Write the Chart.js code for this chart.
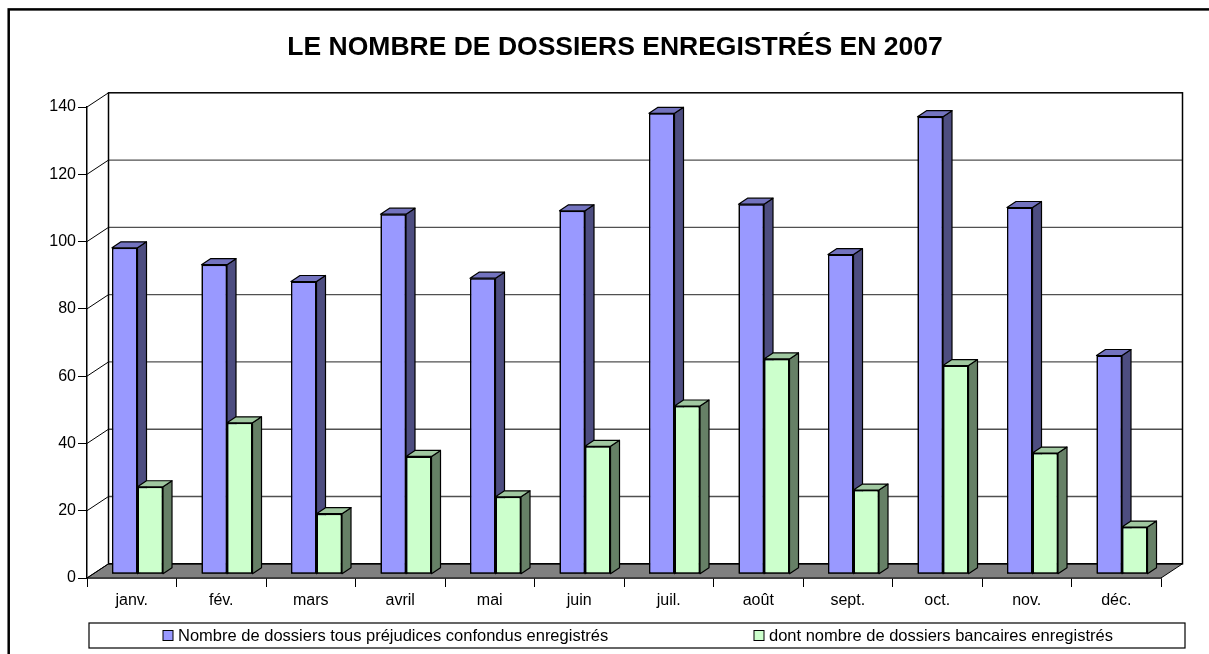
<!DOCTYPE html>
<html>
<head>
<meta charset="utf-8">
<script src="https://cdn.jsdelivr.net/npm/chart.js@4"></script>
<style>
    html, body { margin: 0; padding: 0; background: #fff; overflow: hidden; }
    #wrap { position: relative; width: 1209px; height: 654px; }
</style>
</head>
<body>
<div id="wrap"><canvas id="chart"></canvas></div>
<script>
// Data
const months = ["janv.", "fév.", "mars", "avril", "mai", "juin", "juil.", "août", "sept.", "oct.", "nov.", "déc."];
const totalFiles = [97, 92, 87, 107, 88, 108, 137, 110, 95, 136, 109, 65];
const bankFiles = [26, 45, 18, 35, 23, 38, 50, 64, 25, 62, 36, 14];
const seriesNames = [
    "Nombre de dossiers tous préjudices confondus enregistrés",
    "dont nombre de dossiers bancaires enregistrés",
];
const titleText = "LE NOMBRE DE DOSSIERS ENREGISTRÉS EN 2007";
const yMin = 0, yMax = 140, yStep = 20;

// Styles
const FONT = '"Liberation Sans", Arial, sans-serif';
const faces = [
    { front: "#9999FF", side: "#4D4D80", top: "#7373BF" },
    { front: "#CCFFCC", side: "#668066", top: "#A0C8A0" },
];
const WALL = { dx: 21.5, dy: -14.2 };   // depth of the floor / side wall
const SHIFT = { dx: 5.75, dy: -3.8 };   // bars sit a bit behind the front edge
const DEPTH = { dx: 9, dy: -6 };        // depth of one bar
const legendLayout = { left: 89, top: 623, right: 1185, bottom: 648, items: [163, 754] };

Chart.defaults.font.family = FONT;

function poly(ctx, pts, fill) {
    ctx.beginPath();
    ctx.moveTo(pts[0][0], pts[0][1]);
    for (let i = 1; i < pts.length; i++) ctx.lineTo(pts[i][0], pts[i][1]);
    ctx.closePath();
    if (fill) {
        ctx.fillStyle = fill;
        ctx.fill();
    }
    ctx.stroke();
}

function line(ctx, x1, y1, x2, y2) {
    ctx.beginPath();
    ctx.moveTo(x1, y1);
    ctx.lineTo(x2, y2);
    ctx.stroke();
}

// Walls, floor and the depth faces of the bars
const frame3d = {
    id: "frame3d",
    beforeDraw(chart) {
        const ctx = chart.ctx;
        ctx.save();
        ctx.strokeStyle = "#000";
        ctx.lineWidth = 2.5;
        ctx.strokeRect(8.7, 9.4, 1400, 1000);
        ctx.restore();
    },
    beforeDatasetsDraw(chart) {
        const { ctx, chartArea: a, scales: { y } } = chart;
        ctx.save();
        // floor
        ctx.strokeStyle = "#000";
        ctx.lineWidth = 1;
        poly(ctx, [
            [a.left, a.bottom],
            [a.left + WALL.dx, a.bottom + WALL.dy],
            [a.right + WALL.dx, a.bottom + WALL.dy],
            [a.right, a.bottom],
        ], "#808080");
        // gridlines on back wall + diagonals on side wall
        y.ticks.forEach((t) => {
            const py = y.getPixelForValue(t.value);
            ctx.strokeStyle = "#000";
            ctx.lineWidth = 1;
            line(ctx, a.left, py, a.left + WALL.dx, py + WALL.dy);
            if (t.value > yMin && t.value < yMax) {
                ctx.strokeStyle = "#505050";
                ctx.lineWidth = 1.3;
                line(ctx, a.left + WALL.dx, py + WALL.dy, a.right + WALL.dx, py + WALL.dy);
            }
        });
        // back wall outline
        ctx.strokeStyle = "#000";
        ctx.lineWidth = 1.5;
        ctx.strokeRect(a.left + WALL.dx, a.top + WALL.dy, a.right - a.left, a.bottom - a.top);
        ctx.restore();

        ctx.save();
        ctx.translate(SHIFT.dx, SHIFT.dy);
    },
    afterDatasetsDraw(chart) {
        const ctx = chart.ctx;
        const metas = chart.getSortedVisibleDatasetMetas();
        ctx.lineJoin = "round";
        for (let i = 0; i < chart.data.labels.length; i++) {
            metas.forEach((meta) => {
                const bar = meta.data[i];
                const st = faces[meta.index];
                bar.draw(ctx);
                const { x, y, base, width } = bar.getProps(["x", "y", "base", "width"], true);
                const l = x - width / 2, r = x + width / 2;
                ctx.strokeStyle = "#000";
                ctx.lineWidth = 1.2;
                poly(ctx, [[r, y], [r + DEPTH.dx, y + DEPTH.dy], [r + DEPTH.dx, base + DEPTH.dy], [r, base]], st.side);
                poly(ctx, [[l, y], [l + DEPTH.dx, y + DEPTH.dy], [r + DEPTH.dx, y + DEPTH.dy], [r, y]], st.top);
            });
        }
        ctx.restore();
    },
    afterDraw(chart) {
        // legend box
        const ctx = chart.ctx;
        const L = legendLayout;
        ctx.save();
        ctx.strokeStyle = "#000";
        ctx.lineWidth = 1.2;
        ctx.strokeRect(L.left, L.top, L.right - L.left, L.bottom - L.top);
        const cy = (L.top + L.bottom) / 2;
        ctx.font = "16.5px " + FONT;
        ctx.textBaseline = "middle";
        chart.data.datasets.forEach((ds, i) => {
            const x = L.items[i];
            ctx.fillStyle = ds.backgroundColor;
            ctx.fillRect(x, cy - 5, 10, 10);
            ctx.lineWidth = 1;
            ctx.strokeRect(x, cy - 5, 10, 10);
            ctx.fillStyle = "#000";
            ctx.fillText(ds.label, x + 15, cy + 1);
        });
        ctx.restore();
    },
};

const datasets = [totalFiles, bankFiles].map((values, i) => ({
    label: seriesNames[i],
    data: values,
    yAxisID: "y",
    backgroundColor: faces[i].front,
    borderColor: "#000",
    borderWidth: 1.5,
    borderSkipped: false,
    categoryPercentage: 0.57,
    barPercentage: 1,
    clip: false,
}));

new Chart(document.getElementById("chart"), {
    type: "bar",
    data: { labels: months, datasets: datasets },
    plugins: [frame3d],
    options: {
        responsive: true,
        maintainAspectRatio: false,
        animation: false,
        devicePixelRatio: 1,
        layout: { padding: { top: 0, left: 21, right: 0, bottom: 46 } },
        plugins: {
            legend: { display: false },
            tooltip: { enabled: false },
            title: {
                display: true,
                text: titleText,
                color: "#000",
                font: { family: FONT, size: 26.5, weight: "bold" },
                padding: { top: 32, bottom: 43.2 },
            },
        },
        scales: {
            x: {
                grid: { drawOnChartArea: false, color: "#000", tickLength: 9 },
                border: { color: "#000", width: 1.5 },
                ticks: { color: "#000", font: { size: 16 }, padding: 4, maxRotation: 0 },
                afterFit(scale) { scale.height = 30; },
            },
            y: {
                min: yMin,
                max: yMax,
                grid: { drawOnChartArea: false, color: "#000", tickLength: 9 },
                border: { color: "#000", width: 1.5 },
                ticks: { stepSize: yStep, color: "#000", font: { size: 16 }, padding: 2 },
                afterFit(scale) { scale.width = 66; },
            },
            // empty right margin (room for the 3D depth), keeps the title centred like the original
            margin: {
                axis: "y",
                position: "right",
                grid: { display: false },
                border: { display: false },
                ticks: { display: false },
                afterFit(scale) { scale.width = 48; },
            },
        },
    },
});
</script>
</body>
</html>
